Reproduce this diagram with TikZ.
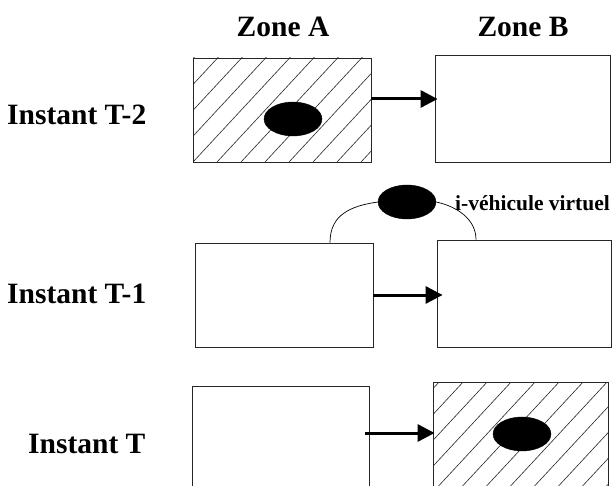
\documentclass[tikz,border=0pt]{standalone}
\usepackage{fontspec}
\setmainfont{Liberation Serif}
\usetikzlibrary{shapes.geometric,arrows.meta}
\begin{document}
\begin{tikzpicture}[x=1pt,y=-1pt,
  zone/.style={draw=black!85,line width=0.8pt,inner sep=0pt,fill=white},
  hatched/.style={path picture={
      \foreach \i in {-8,...,9}
        \draw[line width=0.6pt] ([xshift=\i*24pt]path picture bounding box.south west) -- ++(130pt,140pt);}},
  blob/.style={ellipse,fill=black,draw=black,inner sep=0pt,minimum width=58pt,minimum height=34pt},
  arr/.style={line width=3pt,-{Triangle[length=17pt,width=17pt]}},
  lab/.style={font=\bfseries\fontsize{29.5}{32}\selectfont,inner sep=0pt},
  smalllab/.style={font=\bfseries\fontsize{21.5}{24}\selectfont,inner sep=0pt},
  link/.style={line width=0.7pt}]
\useasboundingbox[fill=white] (0,0) rectangle (612,486);
% labels
\node[lab,anchor=base] (za) at (283,37) {Zone A};
\node[lab,anchor=base] (zb) at (523,37) {Zone B};
\node[lab,anchor=base west] (t2) at (7,125) {Instant T-2};
\node[lab,anchor=base west] (t1) at (7,303) {Instant T-1};
\node[lab,anchor=base west] (t0) at (28,453) {Instant T};
% row 1
\node[zone,hatched,minimum width=178pt,minimum height=104pt] (a1) at (282,110) {};
\node[zone,minimum width=175pt,minimum height=107pt] (b1) at (522.5,108.5) {};
\node[blob] (e1) at (293,119) {};
\draw[arr,shorten >=-3pt] ([yshift=11pt]a1.east) -- ([yshift=11pt]a1.east -| b1.west);
% row 2
\node[zone,minimum width=178pt,minimum height=104pt] (a2) at (284,295) {};
\node[zone,minimum width=174pt,minimum height=107pt] (b2) at (524,293.5) {};
\node[blob] (e2) at (407,202) {};
\draw[link] ([xshift=46pt]a2.north) .. controls (330,215) and (350,206) .. (e2.west);
\draw[link] (e2.east) .. controls (455,206) and (476,218) .. ([xshift=-48pt]b2.north);
\node[smalllab,anchor=base west] (iv) at (455,211) {i-véhicule virtuel};
\draw[arr,shorten >=-6pt] (a2.east) -- (a2.east -| b2.west);
% row 3
\node[zone,minimum width=177pt,minimum height=106pt] (a3) at (280.5,439) {};
\node[zone,hatched,minimum width=175pt,minimum height=110pt] (b3) at (520.5,437) {};
\node[blob] (e3) at (522,434) {};
\draw[arr,shorten <=-4pt,shorten >=-2pt] ([yshift=6pt]a3.east) -- ([yshift=6pt]a3.east -| b3.west);
\end{tikzpicture}
\end{document}
